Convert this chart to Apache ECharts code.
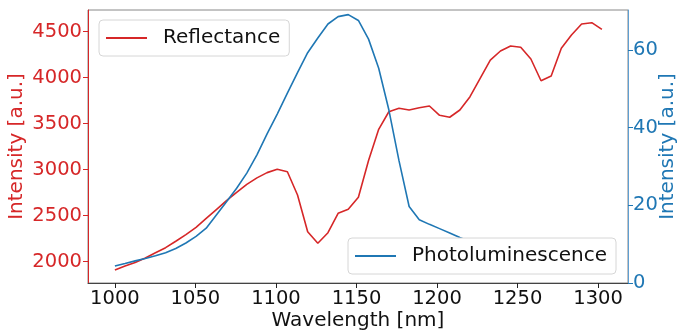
<!DOCTYPE html>
<html>
<head>
<meta charset="utf-8">
<script src="https://cdn.jsdelivr.net/npm/echarts@6/dist/echarts.min.js"></script>
<style>
  html, body { margin: 0; padding: 0; background: #ffffff; }
  #chart { width: 680px; height: 331px; }
</style>
</head>
<body>
<div id="chart"></div>
<script>
// Sampled wavelengths (nm)
const wavelength = [
  1000.0, 1006.3, 1012.6, 1018.9, 1025.2, 1031.5, 1037.8, 1044.1, 1050.4, 1056.7,
  1063.0, 1069.3, 1075.6, 1081.9, 1088.2, 1094.5, 1100.8, 1107.1, 1113.4, 1119.7,
  1126.0, 1132.3, 1138.6, 1144.9, 1151.2, 1157.5, 1163.8, 1170.1, 1176.4, 1182.7,
  1189.0, 1195.3, 1201.6, 1207.9, 1214.2, 1220.5, 1226.8, 1233.1, 1239.4, 1245.7,
  1252.0, 1258.3, 1264.6, 1270.9, 1277.2, 1283.5, 1289.8, 1296.1, 1302.4
];

// Reflectance intensity (left axis, a.u.)
const reflectance = [
  1910, 1953, 1992, 2040, 2096, 2152, 2222, 2294, 2373, 2470,
  2566, 2663, 2753, 2841, 2911, 2968, 3004, 2978, 2725, 2326,
  2200, 2315, 2526, 2570, 2700, 3100, 3439, 3630, 3667, 3649,
  3674, 3692, 3591, 3570, 3649, 3793, 3993, 4192, 4290, 4345,
  4331, 4203, 3967, 4018, 4320, 4464, 4584, 4598, 4526
];

// Photoluminescence intensity (right axis, a.u.)
const photoluminescence = [
  4.4, 5.0, 5.7, 6.3, 7.0, 7.8, 8.9, 10.3, 12.0, 14.1,
  17.5, 20.9, 24.4, 28.3, 33.0, 38.4, 43.5, 48.9, 54.2, 59.3,
  63.1, 66.7, 68.6, 69.1, 67.6, 62.8, 55.3, 44.6, 31.5, 19.7,
  16.3, 15.1, 14.0, 12.9, 11.7, 10.6, 9.7, 9.0, 8.4, 7.9,
  7.5, 7.1, 6.8, 6.5, 6.3, 6.1, 5.9, 5.8, 5.7
];

// Tick positions
const xTicks = [1000, 1050, 1100, 1150, 1200, 1250, 1300];
const leftTicks = [2000, 2500, 3000, 3500, 4000, 4500];
const rightTicks = [0, 20, 40, 60];

const RED = '#d62728';
const BLUE = '#1f77b4';
const FONT = 'DejaVu Sans';
const plain = v => String(v);

const chart = echarts.init(document.getElementById('chart'), null, { renderer: 'canvas' });

const legendBase = {
  orient: 'horizontal',
  selectedMode: false,
  icon: 'rect',
  itemWidth: 41,
  itemHeight: 2,
  padding: [8, 9, 8, 7],
  backgroundColor: '#ffffff',
  borderColor: '#d6d6d6',
  borderWidth: 1,
  borderRadius: 4,
  textStyle: { fontFamily: FONT, fontSize: 20, color: '#111111', padding: [0, 0, 0, 11] }
};

chart.setOption({
  animation: false,
  grid: {
    left: 88, right: 52, top: 10, bottom: 48,
    outerBoundsMode: 'none',
    containLabel: false,
    show: true, borderColor: '#888888', borderWidth: 1, backgroundColor: 'transparent'
  },
  legend: [
    Object.assign({}, legendBase, { data: ['Reflectance'], left: 99, top: 20 }),
    Object.assign({}, legendBase, { data: ['Photoluminescence'], left: 348, top: 238 })
  ],
  xAxis: {
    type: 'value',
    min: 983.3,
    max: 1318.6,
    name: 'Wavelength [nm]',
    nameLocation: 'middle',
    nameMoveOverlap: false,
    nameGap: 27.5,
    nameTextStyle: { fontFamily: FONT, fontSize: 20, color: '#111111' },
    axisLine: { show: true, lineStyle: { color: '#444444', width: 1 } },
    axisTick: { show: true, customValues: xTicks, length: 5, lineStyle: { color: '#222222', width: 1 } },
    axisLabel: { customValues: xTicks, formatter: plain, fontFamily: FONT, fontSize: 19.5, color: '#111111', margin: 6 },
    splitLine: { show: false }
  },
  yAxis: [
    {
      type: 'value',
      position: 'left',
      min: 1768,
      max: 4736,
      name: 'Intensity [a.u.]',
      nameLocation: 'middle',
      nameMoveOverlap: false,
      nameRotate: 90,
      nameGap: 61,
      nameTextStyle: { fontFamily: FONT, fontSize: 20, color: RED },
      axisLine: { show: true, lineStyle: { color: RED, width: 1 } },
      axisTick: { show: true, customValues: leftTicks, length: 5, lineStyle: { color: RED, width: 1 } },
      axisLabel: { customValues: leftTicks, formatter: plain, fontFamily: FONT, fontSize: 19.5, color: RED, margin: 6 },
      splitLine: { show: false }
    },
    {
      type: 'value',
      position: 'right',
      min: 0,
      max: 70.3,
      name: 'Intensity [a.u.]',
      nameLocation: 'middle',
      nameMoveOverlap: false,
      nameRotate: 90,
      nameGap: 30,
      nameTextStyle: { fontFamily: FONT, fontSize: 20, color: BLUE },
      axisLine: { show: true, lineStyle: { color: '#5f9fd2', width: 1 } },
      axisTick: { show: true, customValues: rightTicks, length: 5, lineStyle: { color: BLUE, width: 1 } },
      axisLabel: { customValues: rightTicks, formatter: plain, fontFamily: FONT, fontSize: 19.5, color: BLUE, margin: 5 },
      splitLine: { show: false }
    }
  ],
  series: [
    {
      name: 'Reflectance',
      type: 'line',
      yAxisIndex: 0,
      symbol: 'none',
      z: 2,
      lineStyle: { color: RED, width: 1.6 },
      itemStyle: { color: RED },
      data: wavelength.map((w, i) => [w, reflectance[i]])
    },
    {
      name: 'Photoluminescence',
      type: 'line',
      yAxisIndex: 1,
      symbol: 'none',
      z: 3,
      lineStyle: { color: BLUE, width: 1.6 },
      itemStyle: { color: BLUE },
      data: wavelength.map((w, i) => [w, photoluminescence[i]])
    }
  ]
});
</script>
</body>
</html>
